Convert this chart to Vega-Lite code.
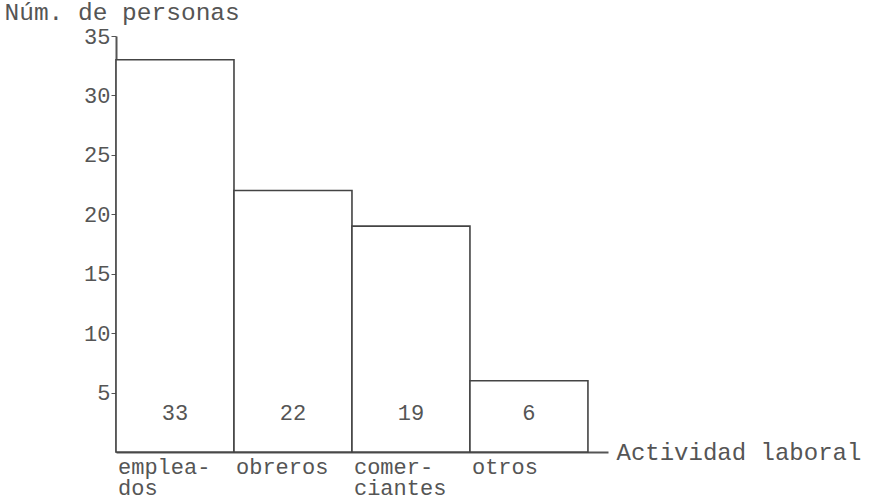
{
  "$schema": "https://vega.github.io/schema/vega-lite/v6.json",
  "width": 492,
  "height": 416,
  "autosize": {"type": "none"},
  "padding": {"left": 116, "top": 36, "right": 262, "bottom": 50},
  "background": "white",
  "config": {
    "view": {"stroke": null},
    "font": "Liberation Mono",
    "axis": {"labelFont": "Liberation Mono", "titleFont": "Liberation Mono", "labelColor": "#555", "titleColor": "#555", "domainColor": "#555", "tickColor": "#555", "grid": false, "titleFontWeight": "normal"}
  },
  "data": {
    "values": [
      {"actividad": "empleados", "personas": 33},
      {"actividad": "obreros", "personas": 22},
      {"actividad": "comerciantes", "personas": 19},
      {"actividad": "otros", "personas": 6}
    ]
  },
  "encoding": {
    "x": {
      "field": "actividad",
      "type": "nominal",
      "sort": null,
      "scale": {"paddingInner": 0, "paddingOuter": 0.085, "align": 0},
      "axis": {
        "title": "Actividad laboral",
        "titleFontSize": 24,
        "titleAnchor": "end",
        "titleAlign": "left",
        "titleBaseline": "middle",
        "titleX": 500,
        "titleY": 0,
        "ticks": false,
        "domainWidth": 2,
        "labelAngle": 0,
        "labelAlign": "left",
        "labelBaseline": "top",
        "labelOffset": -57,
        "labelPadding": 4,
        "labelFontSize": 22,
        "labelLineHeight": 21,
        "labelOverlap": false,
        "labelBound": false,
        "labelExpr": "datum.value == 'empleados' ? ['emplea-', 'dos'] : datum.value == 'comerciantes' ? ['comer-', 'ciantes'] : datum.label"
      }
    }
  },
  "layer": [
    {
      "mark": {"type": "bar", "fill": "white", "stroke": "#444", "strokeWidth": 1.6},
      "encoding": {
        "y": {
          "field": "personas",
          "type": "quantitative",
          "scale": {"domain": [0, 35], "nice": false},
          "axis": {
            "title": "Núm. de personas",
            "titleAngle": 0,
            "titleAlign": "left",
            "titleBaseline": "middle",
            "titleX": -112,
            "titleY": -24,
            "titleFontSize": 24.5,
            "values": [5, 10, 15, 20, 25, 30, 35],
            "tickSize": 5,
            "labelPadding": 1,
            "labelFontSize": 22,
            "domainWidth": 2
          }
        }
      }
    },
    {
      "mark": {"type": "text", "fontSize": 22, "color": "#555", "baseline": "bottom", "font": "Liberation Mono"},
      "encoding": {
        "y": {"datum": 2.3, "type": "quantitative"},
        "text": {"field": "personas", "type": "quantitative"}
      }
    }
  ]
}
